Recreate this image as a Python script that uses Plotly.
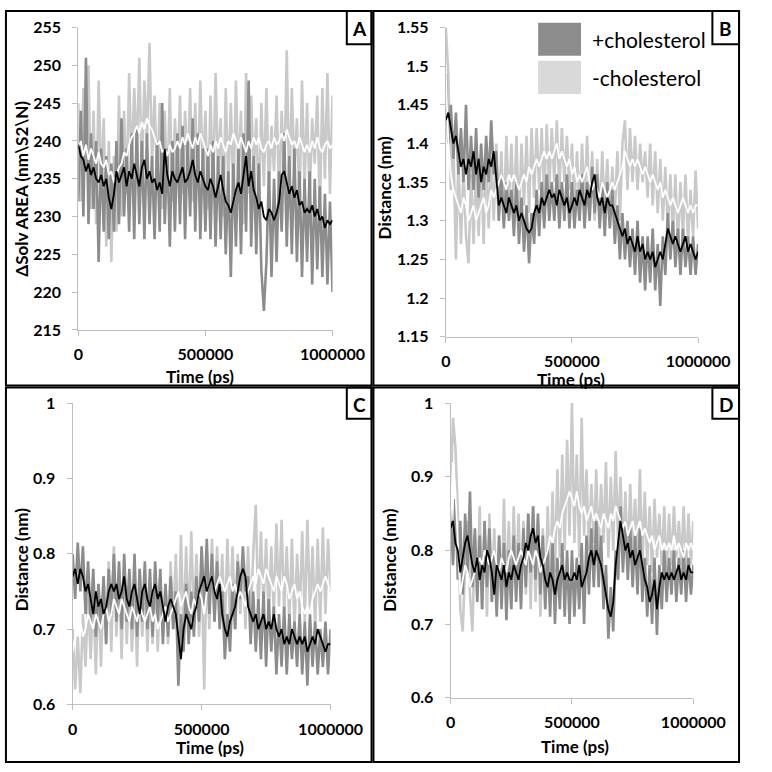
import plotly.graph_objects as go

# ---------------- data ----------------
TIME_PS = list(range(0, 1000001, 10000))  # 101 samples, 0 .. 1,000,000 ps

X_TICKS = [0, 500000, 1000000]
X_TICK_LABELS = ["0", "500000", "1000000"]

# Panel A : ΔSolv AREA
A_MINUS_RAW = [245, 232, 247, 236, 250, 231, 244, 229, 248, 234,
               243, 226, 240, 224, 238, 228, 246, 230, 244, 233,
               249, 236, 247, 238, 251, 235, 248, 240, 253, 237,
               246, 234, 245, 231, 244, 233, 247, 232, 243, 235,
               246, 233, 244, 236, 247, 232, 245, 234, 248, 235,
               244, 231, 246, 233, 249, 236, 243, 230, 247, 234,
               245, 232, 248, 235, 244, 229, 249, 233, 246, 236,
               243, 231, 245, 234, 247, 233, 242, 236, 246, 232,
               244, 235, 252, 233, 247, 236, 243, 231, 248, 234,
               245, 232, 243, 237, 246, 230, 247, 235, 249, 233,
               246]
A_MINUS_AVG = [239, 240, 238, 239.5, 237.5, 239, 238, 237, 238.5, 237,
               236.5, 237.5, 235.5, 236, 234.5, 235.5, 236.5, 237, 238.5, 238,
               239.5, 240.5, 241, 242, 241, 242.5, 241.5, 243, 242, 241.5,
               240.5, 239.5, 240, 238.5, 239, 238, 239.5, 238.5, 239, 240,
               239, 240.5, 239.5, 241, 240, 239, 240.5, 239.5, 241, 240,
               239, 238, 239.5, 238.5, 240, 239, 240.5, 239.5, 238.5, 240,
               239.5, 241, 240, 239, 240.5, 239.5, 238.5, 240, 239, 240.5,
               239.5, 240.5, 239, 238.5, 239.5, 240, 239, 240.5, 239.5, 240,
               241, 240, 241.5, 240.5, 239.5, 240, 239, 240.5, 239.5, 238.5,
               239.5, 238.5, 240, 239, 240.5, 239, 238.5, 239.5, 240, 239,
               239.5]
A_PLUS_RAW = [232, 244, 230, 251, 229, 241, 231, 240, 224, 239,
              228, 238, 227, 237, 228, 240, 229, 243, 230, 239,
              228, 241, 227, 242, 229, 240, 227, 241, 229, 238,
              227, 240, 228, 245, 229, 239, 226, 240, 228, 241,
              229, 242, 227, 240, 230, 243, 228, 241, 227, 239,
              228, 239, 227, 240, 226, 238, 227, 238, 225, 236,
              222, 237, 226, 239, 225, 241, 228, 248, 226, 238,
              225, 237, 223, 217.5, 224, 236, 222, 235, 224, 236,
              228, 241, 226, 238, 225, 239, 224, 236, 222, 235,
              224, 236, 221, 235, 223, 234, 222, 233, 221, 232,
              220]
A_PLUS_AVG = [239.5, 238, 237.5, 236, 237, 235.5, 236.5, 235, 234.5, 235.5,
              234, 235, 232.5, 231, 233, 236, 234.5, 235.5, 236.5, 234,
              236, 235, 237, 235.5, 234, 236.5, 237.5, 235, 236, 234.5,
              235, 233.5, 234.5, 233, 239, 235.5, 234, 236, 235, 234.5,
              235.5, 236.5, 234.5, 235, 236, 237.5, 235.5, 234.5, 236, 235,
              234, 233.5, 235, 234, 232.5, 234, 235.5, 233.5, 232, 231.5,
              230.5, 232, 233.5, 234.5, 233, 235.5, 238, 234, 236, 233.5,
              232.5, 231, 232, 230, 229.5, 231, 230.5, 229.5, 230.5, 232,
              235.5, 236, 234.5, 233, 234, 232.5, 233.5, 231.5, 232, 230.5,
              231, 230.5, 231.5, 230, 231, 229.5, 230, 228.5, 229.5, 229,
              229.5]

# Panel B : distance
B_MINUS_RAW = [1.55, 1.49, 1.34, 1.40, 1.25, 1.38, 1.27, 1.37, 1.28, 1.245,
               1.36, 1.27, 1.37, 1.28, 1.38, 1.27, 1.39, 1.29, 1.38, 1.30,
               1.40, 1.31, 1.39, 1.30, 1.41, 1.32, 1.40, 1.31, 1.41, 1.30,
               1.40, 1.32, 1.41, 1.31, 1.42, 1.33, 1.42, 1.34, 1.42, 1.33,
               1.425, 1.34, 1.42, 1.35, 1.43, 1.34, 1.42, 1.35, 1.41, 1.34,
               1.40, 1.32, 1.39, 1.31, 1.40, 1.32, 1.41, 1.31, 1.39, 1.30,
               1.38, 1.30, 1.39, 1.31, 1.38, 1.30, 1.37, 1.31, 1.39, 1.30,
               1.40, 1.43, 1.34, 1.42, 1.35, 1.41, 1.34, 1.40, 1.35, 1.39,
               1.33, 1.40, 1.32, 1.39, 1.31, 1.38, 1.30, 1.37, 1.29, 1.36,
               1.28, 1.36, 1.27, 1.35, 1.28, 1.36, 1.27, 1.34, 1.28, 1.365,
               1.29]
B_MINUS_AVG = [1.49, 1.40, 1.36, 1.34, 1.33, 1.32, 1.31, 1.33, 1.32, 1.30,
               1.31, 1.32, 1.30, 1.31, 1.32, 1.33, 1.31, 1.32, 1.34, 1.33,
               1.34, 1.35, 1.36, 1.35, 1.34, 1.36, 1.35, 1.36, 1.35, 1.34,
               1.35, 1.36, 1.35, 1.37, 1.36, 1.37, 1.38, 1.37, 1.38, 1.39,
               1.38, 1.39, 1.38, 1.39, 1.40, 1.38, 1.39, 1.38, 1.37, 1.38,
               1.36, 1.37, 1.35, 1.36, 1.35, 1.36, 1.37, 1.35, 1.34, 1.35,
               1.34, 1.33, 1.35, 1.34, 1.33, 1.34, 1.35, 1.34, 1.35, 1.36,
               1.37, 1.39, 1.38, 1.37, 1.38, 1.37, 1.38, 1.37, 1.36, 1.37,
               1.36, 1.35, 1.36, 1.35, 1.34, 1.35, 1.33, 1.34, 1.33, 1.32,
               1.33, 1.32, 1.31, 1.32, 1.33, 1.32, 1.31, 1.32, 1.31, 1.32,
               1.32]
B_PLUS_RAW = [1.49, 1.40, 1.45, 1.38, 1.44, 1.36, 1.42, 1.35, 1.45, 1.34,
              1.41, 1.34, 1.42, 1.33, 1.40, 1.34, 1.41, 1.35, 1.43, 1.36,
              1.39, 1.30, 1.36, 1.29, 1.35, 1.30, 1.34, 1.28, 1.35, 1.27,
              1.33, 1.26, 1.32, 1.245, 1.31, 1.27, 1.34, 1.28, 1.35, 1.29,
              1.36, 1.30, 1.35, 1.30, 1.36, 1.29, 1.35, 1.30, 1.36, 1.29,
              1.35, 1.29, 1.34, 1.30, 1.36, 1.29, 1.35, 1.30, 1.37, 1.31,
              1.36, 1.29, 1.35, 1.28, 1.35, 1.29, 1.34, 1.27, 1.32, 1.25,
              1.31, 1.25, 1.30, 1.24, 1.29, 1.23, 1.30, 1.22, 1.28, 1.21,
              1.28, 1.22, 1.29, 1.21, 1.27, 1.19, 1.28, 1.23, 1.31, 1.25,
              1.30, 1.24, 1.29, 1.23, 1.29, 1.24, 1.28, 1.23, 1.28, 1.23,
              1.27]
B_PLUS_AVG = [1.43, 1.44, 1.42, 1.40, 1.41, 1.39, 1.37, 1.38, 1.36, 1.38,
              1.37, 1.39, 1.36, 1.38, 1.35, 1.37, 1.36, 1.38, 1.37, 1.39,
              1.35, 1.32, 1.33, 1.32, 1.31, 1.33, 1.32, 1.31, 1.32, 1.30,
              1.31, 1.30, 1.29, 1.285, 1.29, 1.31, 1.32, 1.31, 1.33, 1.32,
              1.33, 1.34, 1.33, 1.335, 1.32, 1.34, 1.33, 1.32, 1.33, 1.31,
              1.32, 1.33, 1.32, 1.34, 1.33, 1.32, 1.34, 1.33, 1.35, 1.36,
              1.33, 1.32, 1.33, 1.31, 1.33, 1.32, 1.32, 1.31, 1.30, 1.29,
              1.28, 1.29, 1.27, 1.28, 1.27, 1.26, 1.28, 1.26, 1.27, 1.25,
              1.26, 1.25, 1.26, 1.24, 1.25, 1.26, 1.25, 1.27, 1.29, 1.28,
              1.27, 1.28, 1.27, 1.26, 1.27, 1.28, 1.26, 1.27, 1.26, 1.25,
              1.26]

# Panel C : distance
C_MINUS_RAW = [0.70, 0.62, 0.69, 0.615, 0.72, 0.65, 0.74, 0.66, 0.75, 0.64,
               0.76, 0.65, 0.77, 0.68, 0.79, 0.67, 0.81, 0.69, 0.78, 0.66,
               0.79, 0.68, 0.77, 0.67, 0.76, 0.65, 0.78, 0.69, 0.77, 0.67,
               0.76, 0.68, 0.78, 0.67, 0.77, 0.69, 0.76, 0.68, 0.79, 0.70,
               0.80, 0.68, 0.825, 0.69, 0.81, 0.70, 0.83, 0.71, 0.80, 0.69,
               0.79, 0.62, 0.80, 0.70, 0.82, 0.71, 0.81, 0.72, 0.80, 0.70,
               0.82, 0.71, 0.81, 0.70, 0.80, 0.72, 0.79, 0.70, 0.81, 0.71,
               0.80, 0.865, 0.72, 0.83, 0.73, 0.82, 0.71, 0.81, 0.72, 0.84,
               0.73, 0.845, 0.72, 0.81, 0.71, 0.82, 0.70, 0.80, 0.72, 0.83,
               0.71, 0.845, 0.72, 0.81, 0.70, 0.82, 0.71, 0.835, 0.72, 0.82,
               0.75]
C_MINUS_AVG = [0.67, 0.69, 0.70, 0.71, 0.69, 0.70, 0.72, 0.71, 0.70, 0.72,
               0.71, 0.70, 0.72, 0.73, 0.71, 0.72, 0.74, 0.73, 0.72, 0.74,
               0.73, 0.72, 0.71, 0.73, 0.72, 0.71, 0.73, 0.72, 0.71, 0.72,
               0.73, 0.71, 0.72, 0.70, 0.71, 0.72, 0.73, 0.71, 0.72, 0.73,
               0.74, 0.75, 0.73, 0.74, 0.75, 0.73, 0.72, 0.74, 0.73, 0.75,
               0.74, 0.72, 0.75, 0.76, 0.77, 0.75, 0.76, 0.77, 0.76, 0.75,
               0.76, 0.77, 0.75, 0.76, 0.74, 0.75, 0.74, 0.73, 0.75, 0.76,
               0.77, 0.76, 0.78, 0.77, 0.76, 0.78, 0.77, 0.76, 0.75, 0.77,
               0.76, 0.75, 0.77, 0.76, 0.74, 0.75, 0.76, 0.74, 0.75, 0.73,
               0.72, 0.73, 0.72, 0.74, 0.75, 0.76, 0.75, 0.76, 0.77, 0.76,
               0.75]
C_PLUS_RAW = [0.80, 0.74, 0.815, 0.75, 0.81, 0.72, 0.79, 0.71, 0.78, 0.69,
              0.76, 0.70, 0.77, 0.68, 0.78, 0.72, 0.80, 0.71, 0.79, 0.70,
              0.80, 0.71, 0.78, 0.70, 0.80, 0.69, 0.78, 0.71, 0.79, 0.70,
              0.78, 0.69, 0.79, 0.71, 0.78, 0.68, 0.76, 0.69, 0.77, 0.70,
              0.75, 0.625, 0.72, 0.67, 0.76, 0.68, 0.75, 0.69, 0.77, 0.71,
              0.81, 0.73, 0.82, 0.72, 0.80, 0.71, 0.79, 0.70, 0.75, 0.66,
              0.72, 0.67, 0.76, 0.70, 0.79, 0.74, 0.81, 0.75, 0.77, 0.68,
              0.75, 0.67, 0.74, 0.66, 0.75, 0.65, 0.74, 0.67, 0.73, 0.64,
              0.72, 0.65, 0.73, 0.64, 0.72, 0.66, 0.71, 0.65, 0.72, 0.64,
              0.71, 0.625, 0.72, 0.65, 0.71, 0.64, 0.70, 0.65, 0.71, 0.64,
              0.70]
C_PLUS_AVG = [0.77, 0.78, 0.76, 0.78, 0.77, 0.75, 0.76, 0.74, 0.72, 0.75,
              0.73, 0.74, 0.72, 0.73, 0.75, 0.76, 0.75, 0.76, 0.74, 0.75,
              0.77, 0.74, 0.73, 0.75, 0.76, 0.74, 0.72, 0.75, 0.76, 0.74,
              0.73, 0.75, 0.76, 0.74, 0.75, 0.73, 0.71, 0.73, 0.74, 0.73,
              0.72, 0.69, 0.66, 0.70, 0.72, 0.71, 0.70, 0.72, 0.73, 0.75,
              0.76, 0.77, 0.75, 0.76, 0.77, 0.75, 0.74, 0.76, 0.72, 0.70,
              0.69, 0.71, 0.72, 0.73, 0.75, 0.77, 0.78, 0.77, 0.73, 0.72,
              0.71, 0.72, 0.70, 0.71, 0.72, 0.70, 0.71, 0.70, 0.72, 0.70,
              0.69, 0.70, 0.68, 0.69, 0.68, 0.70, 0.69, 0.68, 0.69, 0.68,
              0.69, 0.67, 0.68, 0.69, 0.68, 0.70, 0.69, 0.68, 0.67, 0.68,
              0.68]

# Panel D : distance
D_MINUS_RAW = [0.87, 0.98, 0.94, 0.85, 0.72, 0.69, 0.78, 0.84, 0.74, 0.69,
               0.82, 0.74, 0.86, 0.72, 0.84, 0.71, 0.85, 0.73, 0.83, 0.72,
               0.82, 0.73, 0.87, 0.74, 0.84, 0.72, 0.86, 0.75, 0.85, 0.73,
               0.84, 0.74, 0.85, 0.72, 0.86, 0.73, 0.84, 0.71, 0.83, 0.72,
               0.86, 0.75, 0.88, 0.77, 0.91, 0.79, 0.93, 0.80, 0.95, 0.82,
               1.00, 0.81, 0.93, 0.79, 0.98, 0.82, 0.91, 0.80, 0.89, 0.81,
               0.91, 0.80, 0.89, 0.81, 0.92, 0.79, 0.90, 0.80, 0.935, 0.81,
               0.90, 0.79, 0.88, 0.78, 0.89, 0.80, 0.87, 0.79, 0.91, 0.78,
               0.88, 0.78, 0.86, 0.77, 0.87, 0.79, 0.85, 0.78, 0.86, 0.77,
               0.85, 0.78, 0.86, 0.79, 0.84, 0.78, 0.86, 0.77, 0.85, 0.78,
               0.84]
D_MINUS_AVG = [0.84, 0.92, 0.88, 0.80, 0.74, 0.76, 0.78, 0.77, 0.75, 0.76,
               0.77, 0.78, 0.79, 0.78, 0.80, 0.79, 0.78, 0.79, 0.80, 0.78,
               0.77, 0.79, 0.78, 0.77, 0.79, 0.80, 0.79, 0.78, 0.79, 0.80,
               0.79, 0.78, 0.80, 0.79, 0.78, 0.80, 0.79, 0.77, 0.78, 0.79,
               0.80, 0.82, 0.81, 0.83, 0.84, 0.83, 0.85, 0.86, 0.87, 0.88,
               0.87, 0.86, 0.88, 0.86, 0.85, 0.86, 0.84, 0.85, 0.86, 0.84,
               0.85, 0.84, 0.83, 0.85, 0.84, 0.83, 0.85, 0.84, 0.86, 0.85,
               0.84, 0.83, 0.84, 0.82, 0.83, 0.84, 0.82, 0.83, 0.84, 0.82,
               0.83, 0.82, 0.81, 0.82, 0.80, 0.81, 0.82, 0.80, 0.81, 0.80,
               0.81, 0.80, 0.82, 0.80, 0.81, 0.80, 0.79, 0.81, 0.80, 0.81,
               0.80]
D_PLUS_RAW = [0.86, 0.78, 0.87, 0.76, 0.84, 0.74, 0.85, 0.77, 0.88, 0.75,
              0.83, 0.73, 0.82, 0.72, 0.84, 0.75, 0.83, 0.73, 0.80, 0.71,
              0.82, 0.72, 0.81, 0.705, 0.80, 0.72, 0.82, 0.73, 0.81, 0.72,
              0.83, 0.75, 0.85, 0.77, 0.86, 0.76, 0.85, 0.74, 0.82, 0.72,
              0.80, 0.71, 0.81, 0.70, 0.79, 0.72, 0.81, 0.71, 0.80, 0.70,
              0.80, 0.71, 0.79, 0.72, 0.81, 0.70, 0.82, 0.74, 0.83, 0.75,
              0.84, 0.75, 0.82, 0.72, 0.78, 0.68, 0.75, 0.69, 0.80, 0.76,
              0.86, 0.77, 0.84, 0.76, 0.83, 0.75, 0.82, 0.74, 0.83, 0.73,
              0.79, 0.71, 0.78, 0.70, 0.79, 0.685, 0.78, 0.72, 0.80, 0.73,
              0.79, 0.74, 0.80, 0.73, 0.79, 0.74, 0.80, 0.73, 0.79, 0.74,
              0.78]
D_PLUS_AVG = [0.83, 0.84, 0.81, 0.80, 0.77, 0.79, 0.81, 0.82, 0.80, 0.78,
              0.77, 0.79, 0.76, 0.78, 0.77, 0.80, 0.79, 0.77, 0.74, 0.78,
              0.77, 0.76, 0.78, 0.75, 0.77, 0.76, 0.78, 0.77, 0.76, 0.78,
              0.79, 0.81, 0.80, 0.82, 0.83, 0.81, 0.82, 0.79, 0.78, 0.76,
              0.75, 0.77, 0.76, 0.74, 0.76, 0.77, 0.78, 0.76, 0.77, 0.76,
              0.76, 0.77, 0.76, 0.78, 0.75, 0.76, 0.77, 0.79, 0.80, 0.78,
              0.80, 0.79, 0.78, 0.76, 0.74, 0.72, 0.71, 0.73, 0.78, 0.81,
              0.84, 0.82, 0.80, 0.81, 0.79, 0.80, 0.78, 0.79, 0.80, 0.78,
              0.76, 0.75, 0.73, 0.74, 0.76, 0.72, 0.75, 0.77, 0.76, 0.77,
              0.76, 0.77, 0.76, 0.77, 0.78, 0.76, 0.77, 0.76, 0.78, 0.77,
              0.77]

SERIES_NAMES = ["+cholesterol", "-cholesterol"]
PANEL_LABELS = ["A", "B", "C", "D"]
Y_TITLES = ["\u0394Solv AREA (nm\\S2\\N)", "Distance (nm)", "Distance (nm)", "Distance (nm)"]
X_TITLE = "Time (ps)"

# ---------------- styling / layout ----------------
W = 772
FONT = "Lato"
DARK = "#8c8c8c"
LIGHT = "#c9c9c9"
LEG_LIGHT = "#d9d9d9"
AXIS_GREY = "#bfbfbf"


def fx(p):
    return p / W


def fy(p):
    return 1 - p / W


panels = [
    dict(minus_raw=A_MINUS_RAW, minus_avg=A_MINUS_AVG, plus_raw=A_PLUS_RAW, plus_avg=A_PLUS_AVG,
         xpx=(77, 344), ypx=(18, 328), yrange=[215, 255], dtick=5,
         ytitle_xy=(17, 183), xtitle_xy=(205, 376), box=(359, 1, 385, 35)),
    dict(minus_raw=B_MINUS_RAW, minus_avg=B_MINUS_AVG, plus_raw=B_PLUS_RAW, plus_avg=B_PLUS_AVG,
         xpx=(463, 728), ypx=(18, 335), yrange=[1.15, 1.55], dtick=0.05,
         ytitle_xy=(399, 182), xtitle_xy=(594, 379), box=(743, 1, 771, 35)),
    dict(minus_raw=C_MINUS_RAW, minus_avg=C_MINUS_AVG, plus_raw=C_PLUS_RAW, plus_avg=C_PLUS_AVG,
         xpx=(71, 342), ypx=(403, 712), yrange=[0.6, 1.0], dtick=0.1,
         ytitle_xy=(17, 564), xtitle_xy=(215, 756), box=(359, 387, 385, 419)),
    dict(minus_raw=D_MINUS_RAW, minus_avg=D_MINUS_AVG, plus_raw=D_PLUS_RAW, plus_avg=D_PLUS_AVG,
         xpx=(468, 723), ypx=(403, 705), yrange=[0.6, 1.0], dtick=0.1,
         ytitle_xy=(403, 564), xtitle_xy=(599, 755), box=(743, 387, 771, 419)),
]

fig = go.Figure()
layout = dict(
    width=W, height=W, margin=dict(l=0, r=0, t=0, b=0),
    paper_bgcolor="white", plot_bgcolor="rgba(0,0,0,0)",
    showlegend=False, font=dict(family=FONT, color="black"),
)
annotations = []
shapes = []

tickfont = dict(family=FONT, size=16, color="black", weight="bold")

for i, p in enumerate(panels):
    n = "" if i == 0 else str(i + 1)
    xref, yref = "x" + n, "y" + n
    styles = [
        (p["minus_raw"], LIGHT, 2.6, SERIES_NAMES[1]),
        (p["plus_raw"], DARK, 2.6, SERIES_NAMES[0]),
        (p["minus_avg"], "#ffffff", 1.8, SERIES_NAMES[1] + " avg"),
        (p["plus_avg"], "#000000", 1.8, SERIES_NAMES[0] + " avg"),
    ]
    for vals, col, wdt, name in styles:
        fig.add_trace(go.Scatter(x=TIME_PS, y=vals, mode="lines", name=name,
                                 line=dict(color=col, width=wdt),
                                 xaxis=xref, yaxis=yref, hoverinfo="skip"))
    layout["xaxis" + n] = dict(
        domain=[fx(p["xpx"][0]), fx(p["xpx"][1])], anchor=yref,
        range=[0, 1000000], tickmode="array", tickvals=X_TICKS, ticktext=X_TICK_LABELS,
        showgrid=False, zeroline=False, showline=True, linecolor=AXIS_GREY, linewidth=1,
        ticks="outside", ticklen=5, tickcolor=AXIS_GREY, tickfont=tickfont,
        ticklabelstandoff=5, fixedrange=True,
    )
    layout["yaxis" + n] = dict(
        domain=[fy(p["ypx"][1]), fy(p["ypx"][0])], anchor=xref,
        range=p["yrange"], dtick=p["dtick"], tick0=p["yrange"][0],
        showgrid=False, zeroline=False, showline=True, linecolor=AXIS_GREY, linewidth=1,
        ticks="outside", ticklen=5, tickcolor=AXIS_GREY, tickfont=tickfont,
        ticklabelstandoff=8, fixedrange=True,
    )
    # axis titles
    annotations.append(dict(text="<b>%s</b>" % Y_TITLES[i], x=fx(p["ytitle_xy"][0]), y=fy(p["ytitle_xy"][1]),
                            xref="paper", yref="paper", showarrow=False, textangle=-90,
                            font=dict(family=FONT, size=17, color="black"),
                            xanchor="center", yanchor="middle"))
    annotations.append(dict(text="<b>%s</b>" % X_TITLE, x=fx(p["xtitle_xy"][0]), y=fy(p["xtitle_xy"][1]),
                            xref="paper", yref="paper", showarrow=False,
                            font=dict(family=FONT, size=17, color="black"),
                            xanchor="center", yanchor="middle", borderpad=0))
    # panel label box
    bx0, by0, bx1, by1 = p["box"]
    shapes.append(dict(type="rect", xref="paper", yref="paper",
                       x0=fx(bx0), x1=fx(bx1), y0=fy(by1), y1=fy(by0),
                       line=dict(color="black", width=2), fillcolor="white", layer="above"))
    annotations.append(dict(text="<b>%s</b>" % PANEL_LABELS[i], x=fx((bx0 + bx1) / 2), y=fy((by0 + by1) / 2 + 1),
                            xref="paper", yref="paper", showarrow=False,
                            font=dict(family=FONT, size=19, color="black"),
                            xanchor="center", yanchor="middle"))

# panel frames
for (x0, y0, x1, y1) in [(1, 1, 385, 385), (387, 1, 771, 385), (1, 387, 385, 771), (387, 387, 771, 771)]:
    shapes.append(dict(type="rect", xref="paper", yref="paper",
                       x0=fx(x0), x1=fx(x1), y0=fy(y1), y1=fy(y0),
                       line=dict(color="black", width=2), fillcolor="rgba(0,0,0,0)", layer="above"))

# legend (panel B)
for (col, ytop, ybot, label) in [(DARK, 13, 47, SERIES_NAMES[0]), (LEG_LIGHT, 52, 86, SERIES_NAMES[1])]:
    shapes.append(dict(type="rect", xref="paper", yref="paper",
                       x0=fx(560), x1=fx(605), y0=fy(ybot), y1=fy(ytop),
                       line=dict(width=0), fillcolor=col, layer="above"))
    annotations.append(dict(text=label, x=fx(614), y=fy((ytop + ybot) / 2),
                            xref="paper", yref="paper", showarrow=False,
                            font=dict(family=FONT, size=21, color="black"),
                            xanchor="left", yanchor="middle"))

layout["annotations"] = annotations
layout["shapes"] = shapes
fig.update_layout(**layout)
fig.write_html("out.html", config={"displayModeBar": False},
               post_script="document.body.style.margin='0';document.body.style.overflow='hidden';")
